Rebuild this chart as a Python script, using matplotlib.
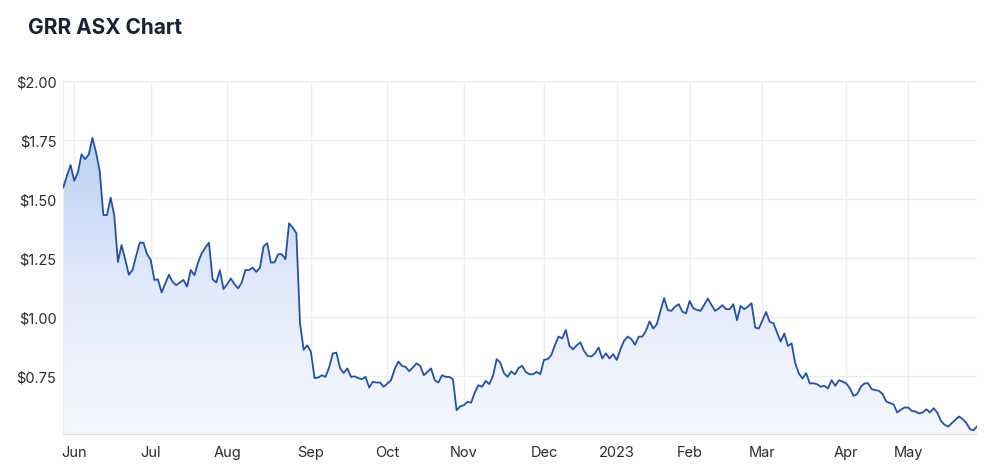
import numpy as np
import pandas as pd
import matplotlib
matplotlib.use("Agg")
import matplotlib.pyplot as plt
from matplotlib.colors import LinearSegmentedColormap

# ---------------- data ----------------
start_date = "2022-05-27"
end_date = "2023-05-26"
asx_holidays = ["2022-06-13", "2022-09-22", "2022-12-26", "2022-12-27",
                "2023-01-02", "2023-01-26", "2023-04-07", "2023-04-10", "2023-04-25"]

prices = [
    1.55, 1.60, 1.645, 1.578, 1.613, 1.69, 1.67, 1.69, 1.76, 1.698,
    1.62, 1.433, 1.433, 1.507, 1.43, 1.234, 1.306, 1.245, 1.18, 1.20,
    1.26, 1.316, 1.316, 1.267, 1.243, 1.158, 1.16, 1.105, 1.143, 1.18,
    1.15, 1.136, 1.147, 1.158, 1.13, 1.20, 1.178, 1.232, 1.271, 1.295,
    1.316, 1.161, 1.147, 1.199, 1.119, 1.14, 1.164, 1.14, 1.122, 1.147,
    1.20, 1.20, 1.21, 1.192, 1.21, 1.30, 1.314, 1.232, 1.232, 1.267,
    1.267, 1.246, 1.398, 1.38, 1.356, 0.975, 0.862, 0.881, 0.853, 0.742,
    0.744, 0.754, 0.747, 0.787, 0.846, 0.85, 0.784, 0.763, 0.783, 0.747,
    0.749, 0.742, 0.737, 0.747, 0.702, 0.726, 0.723, 0.723, 0.705, 0.719,
    0.733, 0.78, 0.812, 0.794, 0.789, 0.771, 0.787, 0.804, 0.794, 0.754,
    0.768, 0.783, 0.733, 0.723, 0.754, 0.747, 0.747, 0.737, 0.606, 0.622,
    0.627, 0.641, 0.638, 0.681, 0.712, 0.705, 0.73, 0.716, 0.752, 0.822,
    0.808, 0.763, 0.747, 0.77, 0.758, 0.784, 0.794, 0.768, 0.758, 0.758,
    0.768, 0.758, 0.819, 0.822, 0.839, 0.881, 0.918, 0.91, 0.946, 0.878,
    0.864, 0.881, 0.893, 0.857, 0.836, 0.833, 0.847, 0.872, 0.825, 0.847,
    0.825, 0.843, 0.819, 0.864, 0.90, 0.918, 0.907, 0.883, 0.917, 0.918,
    0.942, 0.982, 0.952, 0.970, 1.027, 1.081, 1.030, 1.027, 1.045, 1.055,
    1.024, 1.016, 1.069, 1.038, 1.031, 1.027, 1.052, 1.079, 1.052, 1.027,
    1.037, 1.051, 1.034, 1.034, 1.055, 0.987, 1.048, 1.034, 1.045, 1.059,
    0.956, 0.952, 0.987, 1.022, 0.98, 0.975, 0.935, 0.897, 0.931, 0.878,
    0.889, 0.805, 0.761, 0.74, 0.763, 0.719, 0.720, 0.716, 0.705, 0.709,
    0.698, 0.733, 0.709, 0.733, 0.727, 0.719, 0.699, 0.667, 0.674, 0.705,
    0.719, 0.72, 0.695, 0.691, 0.688, 0.674, 0.643, 0.636, 0.631, 0.596,
    0.608, 0.617, 0.617, 0.603, 0.600, 0.592, 0.596, 0.610, 0.596, 0.614,
    0.596, 0.561, 0.544, 0.536, 0.551, 0.565, 0.579, 0.568, 0.551, 0.525,
    0.521, 0.539,
]

y_ticks = [0.75, 1.00, 1.25, 1.50, 1.75, 2.00]
y_tick_labels = ["$0.75", "$1.00", "$1.25", "$1.50", "$1.75", "$2.00"]
title = "GRR ASX Chart"

# ---------------- build ----------------
dates = pd.bdate_range(start_date, end_date, freq="C", holidays=asx_holidays)
n = min(len(dates), len(prices))
dates = dates[:n]
vals = np.array(prices[:n])
x = np.arange(n)

month_idx = [i for i in range(1, n) if dates[i].month != dates[i - 1].month]
month_lbl = [str(dates[i].year) if dates[i].month == 1 else dates[i].strftime("%b")
             for i in month_idx]

plt.rcParams["font.family"] = ["Inter", "DejaVu Sans"]

fig = plt.figure(figsize=(10, 4.77), dpi=100)
ax = fig.add_axes([0.0633, 0.0881, 0.914, 0.7394])

ymin, ymax = 0.505, 2.0
ax.set_xlim(0, n - 1)
ax.set_ylim(ymin, ymax)

# gradient fill under the line
poly = ax.fill_between(x, vals, ymin, facecolor="none", edgecolor="none")
cmap = LinearSegmentedColormap.from_list("g", ["#f6f8fe", "#e2eafb", "#bad0f4"])
grad = np.linspace(0, 1, 256).reshape(-1, 1)
im = ax.imshow(grad, extent=[0, n - 1, ymin, vals.max()], origin="lower",
               aspect="auto", cmap=cmap, zorder=1)
im.set_clip_path(poly.get_paths()[0], transform=ax.transData)

ax.plot(x, vals, color="#2450a8", lw=1.3, zorder=3, solid_joinstyle="round")

# grid
ax.set_yticks(y_ticks)
ax.set_yticklabels(y_tick_labels)
ax.set_xticks(month_idx)
ax.set_xticklabels(month_lbl)
ax.grid(True, color="#ededed", lw=1.0, zorder=0)
ax.set_axisbelow(True)
for s in ["top", "right"]:
    ax.spines[s].set_visible(False)
ax.spines["left"].set_color("#ededed")
ax.spines["bottom"].set_color("#dedede")
ax.tick_params(axis="both", length=0, labelsize=10.5, labelcolor="#2b2b2b")
ax.tick_params(axis="y", pad=5)
ax.tick_params(axis="x", pad=8)

fig.text(0.028, 0.928, title, fontsize=15, fontweight="bold", color="#1a2233",
         ha="left", va="baseline")

fig.savefig("out.png", dpi=100)
